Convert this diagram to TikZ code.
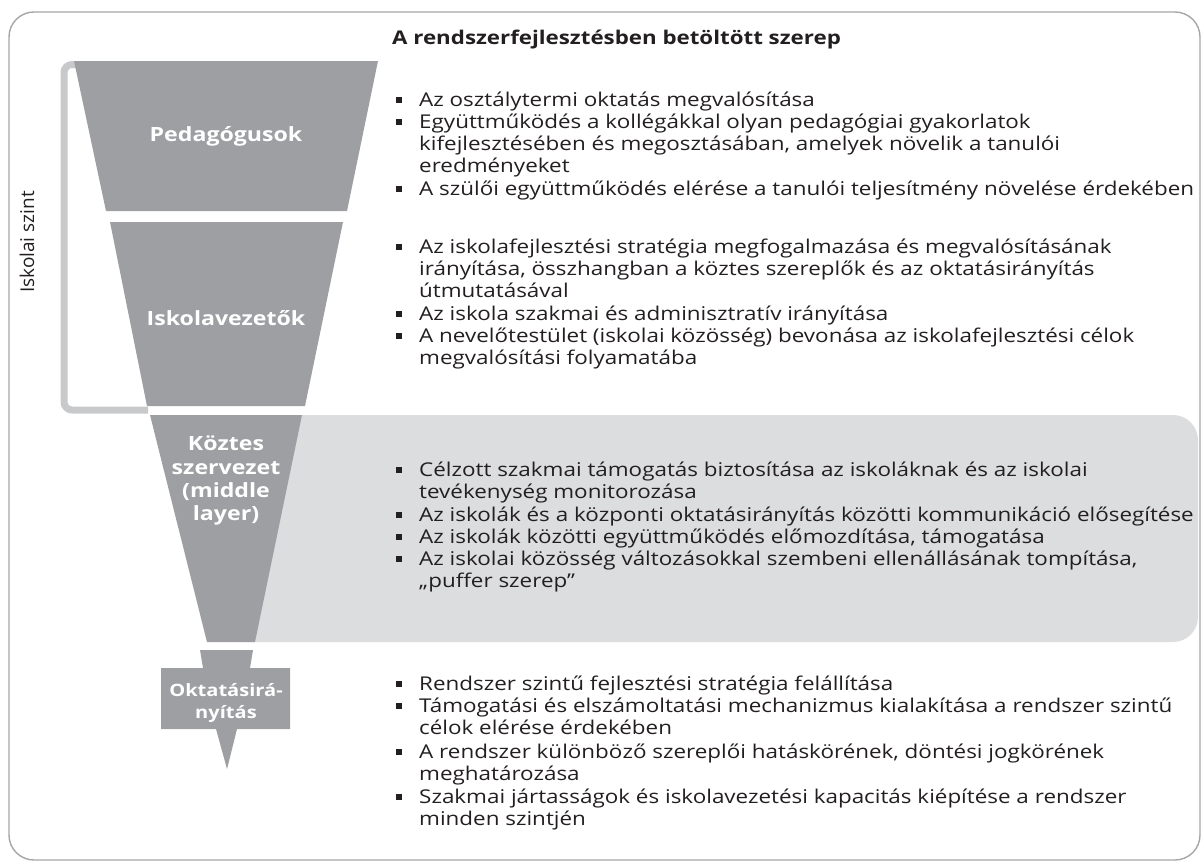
\documentclass[tikz,border=0pt]{standalone}
\usepackage{fontspec}
\setmainfont{Open Sans}
\newfontfamily\wfont[FakeStretch=1.18]{Open Sans}
\definecolor{funnel}{HTML}{9E9FA2}
\definecolor{brack}{HTML}{C8C9CB}
\definecolor{panel}{HTML}{DCDDDF}
\definecolor{frame}{HTML}{A5A6A8}
\definecolor{ink}{HTML}{231F20}
\newcommand\bul{\llap{\rule[3pt]{6pt}{6pt}\hspace{17pt}}}
\begin{document}
\begin{tikzpicture}[x=1pt,y=-1pt,
  txt/.style={anchor=base west, inner sep=0pt, text=ink, font=\wfont\fontsize{19}{22}\selectfont},
  head/.style={anchor=base west, inner sep=0pt, text=ink, font=\wfont\bfseries\fontsize{18.9}{22}\selectfont},
  lab/.style={anchor=base, inner sep=0pt, text=white, font=\wfont\bfseries\fontsize{19.6}{23}\selectfont},
  slab/.style={anchor=base, inner sep=0pt, text=white, font=\wfont\bfseries\fontsize{17}{22}\selectfont},
  side/.style={inner sep=0pt, text=ink, rotate=90, font=\fontsize{19}{20}\selectfont},
  seg/.style={fill=funnel, draw=none}]
\useasboundingbox (0,0) rectangle (1203,862);
% frame
\draw[frame, line width=1.4pt, rounded corners=25pt] (9,12) rectangle (1200,860);
% panel
\fill[panel, rounded corners=25pt] (215,415) rectangle (1198,642);
% bracket
\draw[brack, line width=7pt, rounded corners=8pt] (80,64.5) -- (64,64.5) -- (64,410) -- (148,410);
% funnel
\fill[seg] (74,61) -- (378,61) -- (347,211) -- (106,211) -- cycle;
\fill[seg] (110,222) -- (343,222) -- (305,406) -- (147,406) -- cycle;
\fill[seg] (150,415) -- (302,415) -- (255,642) -- (207,642) -- cycle;
\fill[seg] (200,650) -- (253,650) -- (250,668) -- (290,668) -- (290,729) -- (237,729) -- (227,769) -- (216,729) -- (161,729) -- (161,668) -- (203,668) -- cycle;
% labels
\node[lab] (lped) at (226,141) {Pedagógusok};
\node[lab] (lisk) at (226,325) {Iskolavezetők};
\node[lab] (lk1) at (226,450) {Köztes};
\node[lab] (lk2) at (226,474) {szervezet};
\node[lab] (lk3) at (226,497) {(middle};
\node[lab] (lk4) at (226,520) {layer)};
\node[slab] (lo1) at (226,696) {Oktatásirá-};
\node[slab] (lo2) at (226,718) {nyítás};
\node[side] (szint) at (27,242) {Iskolai szint};
% heading
\node[head] (h) at (392,44) {A rendszerfejlesztésben betöltött szerep};
% section 1
\node[txt] (a1) at (419,106) {\bul Az osztálytermi oktatás megvalósítása};
\node[txt] (a2) at (419,128) {\bul Együttműködés a kollégákkal olyan pedagógiai gyakorlatok};
\node[txt] (a3) at (419,150) {kifejlesztésében és megosztásában, amelyek növelik a tanulói};
\node[txt] (a4) at (419,172) {eredményeket};
\node[txt] (a5) at (419,195) {\bul A szülői együttműködés elérése a tanulói teljesítmény növelése érdekében};
% section 2
\node[txt] (b1) at (419,253) {\bul Az iskolafejlesztési stratégia megfogalmazása és megvalósításának};
\node[txt] (b2) at (419,275) {irányítása, összhangban a köztes szereplők és az oktatásirányítás};
\node[txt] (b3) at (419,297) {útmutatásával};
\node[txt] (b4) at (419,320) {\bul Az iskola szakmai és adminisztratív irányítása};
\node[txt] (b5) at (419,342) {\bul A nevelőtestület (iskolai közösség) bevonása az iskolafejlesztési célok};
\node[txt] (b6) at (419,364) {megvalósítási folyamatába};
% section 3
\node[txt] (c1) at (419,476) {\bul Célzott szakmai támogatás biztosítása az iskoláknak és az iskolai};
\node[txt] (c2) at (419,498) {tevékenység monitorozása};
\node[txt] (c3) at (419,521) {\bul Az iskolák és a központi oktatásirányítás közötti kommunikáció elősegítése};
\node[txt] (c4) at (419,543) {\bul Az iskolák közötti együttműködés előmozdítása, támogatása};
\node[txt] (c5) at (419,565) {\bul Az iskolai közösség változásokkal szembeni ellenállásának tompítása,};
\node[txt] (c6) at (419,587) {„puffer szerep”};
% section 4
\node[txt] (d1) at (419,690) {\bul Rendszer szintű fejlesztési stratégia felállítása};
\node[txt] (d2) at (419,712) {\bul Támogatási és elszámoltatási mechanizmus kialakítása a rendszer szintű};
\node[txt] (d3) at (419,734) {célok elérése érdekében};
\node[txt] (d4) at (419,758) {\bul A rendszer különböző szereplői hatáskörének, döntési jogkörének};
\node[txt] (d5) at (419,780) {meghatározása};
\node[txt] (d6) at (419,803) {\bul Szakmai jártasságok és iskolavezetési kapacitás kiépítése a rendszer};
\node[txt] (d7) at (419,825) {minden szintjén};
\end{tikzpicture}
\end{document}
